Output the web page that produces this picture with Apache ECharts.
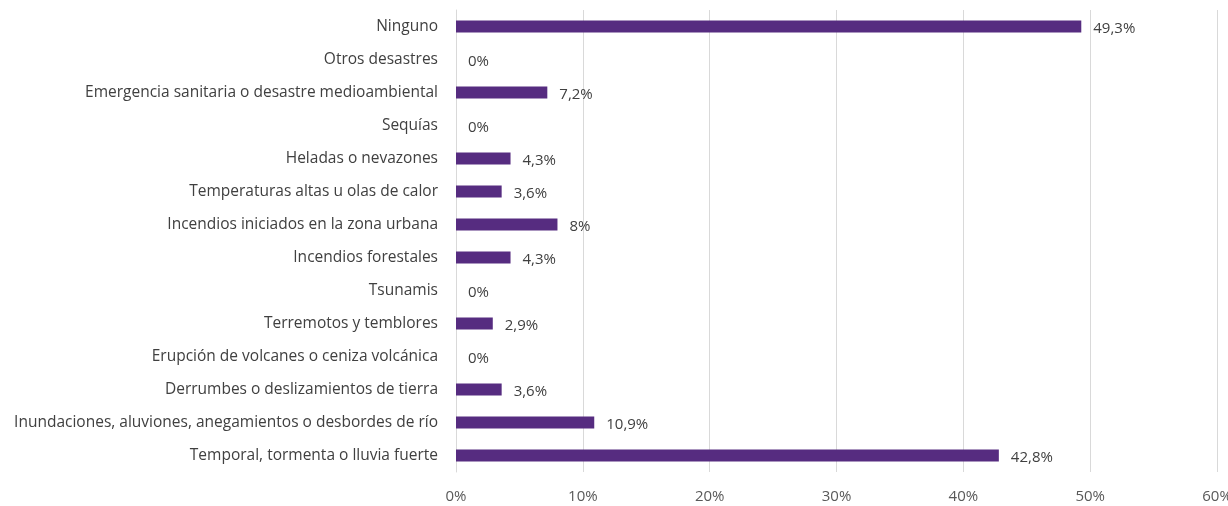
<!DOCTYPE html>
<html>
<head>
<meta charset="utf-8">
<script src="https://cdn.jsdelivr.net/npm/echarts@6/dist/echarts.min.js"></script>
<style>
html,body{margin:0;padding:0;background:#fff;}
#chart{width:1228px;height:506px;}
</style>
</head>
<body>
<div id="chart"></div>
<script>
const categories = [
  "Temporal, tormenta o lluvia fuerte",
  "Inundaciones, aluviones, anegamientos o desbordes de río",
  "Derrumbes o deslizamientos de tierra",
  "Erupción de volcanes o ceniza volcánica",
  "Terremotos y temblores",
  "Tsunamis",
  "Incendios forestales",
  "Incendios iniciados en la zona urbana",
  "Temperaturas altas u olas de calor",
  "Heladas o nevazones",
  "Sequías",
  "Emergencia sanitaria o desastre medioambiental",
  "Otros desastres",
  "Ninguno"
];
const values = [42.8, 10.9, 3.6, 0, 2.9, 0, 4.3, 8, 3.6, 4.3, 0, 7.2, 0, 49.3];
const xTicks = [0, 10, 20, 30, 40, 50, 60];

const chart = echarts.init(document.getElementById('chart'));
const font = '"Open Sans", sans-serif';
chart.setOption({
  animation: false,
  grid: { left: 456, right: 11, top: 10, bottom: 34, containLabel: false, outerBoundsMode: 'none' },
  xAxis: {
    type: 'value',
    min: xTicks[0], max: xTicks[xTicks.length - 1], interval: 10,
    axisLine: { show: false },
    axisTick: { show: false },
    splitLine: { show: true, lineStyle: { color: '#d9d9d9', width: 1 } },
    axisLabel: { formatter: v => v + '%', color: '#595959', fontSize: 15, fontFamily: font, margin: 17, hideOverlap: false }
  },
  yAxis: {
    type: 'category',
    data: categories,
    axisLine: { show: true, lineStyle: { color: '#d9d9d9' } },
    axisTick: { show: false },
    axisLabel: { color: '#404040', fontSize: 15.5, fontFamily: font, margin: 18 }
  },
  series: [{
    type: 'bar',
    data: values,
    barWidth: 12,
    itemStyle: { color: '#562C80' },
    label: {
      show: true, position: 'right', distance: 12, offset: [0, 2],
      color: '#404040', fontSize: 15, fontFamily: font,
      formatter: p => String(p.value).replace('.', ',') + '%'
    }
  }]
});
</script>
</body>
</html>
